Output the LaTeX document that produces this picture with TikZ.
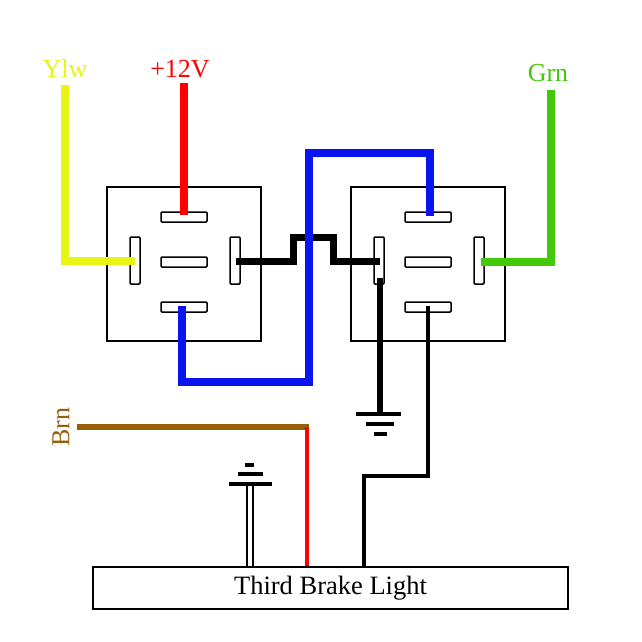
\documentclass[tikz,border=0pt]{standalone}
\usepackage{fontspec}
\setmainfont{Liberation Serif}
\definecolor{ylw}{RGB}{230,245,20}
\definecolor{grn}{RGB}{70,200,10}
\definecolor{brn}{RGB}{150,95,10}
\definecolor{blu}{RGB}{10,20,240}
\begin{document}
\begin{tikzpicture}[x=1pt,y=-1pt,
  box/.style={draw=black,line width=1.3pt},
  slot/.style={draw=black,line width=1.5pt,fill=white,rounded corners=1pt},
  thick wire/.style={line width=7.5pt},
  gnd/.style={line width=4.5pt},
  lbl/.style={font=\fontsize{26}{26}\selectfont}]
\useasboundingbox (0,0) rectangle (642,642);
\fill[white] (0,0) rectangle (642,642);
% relay boxes
\draw[box] (107,187) rectangle (261,341);
\draw[box] (351,187) rectangle (505,341);
\foreach \dx/\n in {0/a,244/b}{
  \draw[slot] (161+\dx,212) rectangle (207+\dx,222);
  \draw[slot] (161+\dx,257) rectangle (207+\dx,267);
  \draw[slot] (161+\dx,302) rectangle (207+\dx,312);
  \draw[slot] (130+\dx,237) rectangle (140+\dx,284);
  \draw[slot] (230+\dx,237) rectangle (240+\dx,284);
}
\coordinate (y0) at (65,85); \coordinate (y1) at (135,261);
\coordinate (r0) at (184,83); \coordinate (r1) at (184,215);
\coordinate (g0) at (551,90); \coordinate (g1) at (481,262);
% wires
\draw[ylw,thick wire] (y0) |- (y1);
\draw[red,thick wire] (r0) -- (r1);
\draw[grn,thick wire] (g0) |- (g1);
\draw[black,line width=7pt] (236,261) -- (293,261) -- (293,237) -- (333,237) -- (333,261) -- (380,261);
\draw[blu,thick wire] (182,306) -- (182,382) -- (309,382) -- (309,153) -- (430,153) -- (430,216);
\draw[black,line width=6pt] (380,278) -- (380,414);
\draw[gnd] (356,414) -- (401,414) (366,424) -- (394,424) (374,434) -- (387,434);
\draw[black,line width=3.5pt] (428,306) -- (428,476) -- (364,476) -- (364,568);
\draw[brn,line width=6pt] (77,427) -- (309,427);
\draw[red,line width=3.5pt] (307,427) -- (307,568);
\draw[line width=1.2pt] (247,484) -- (247,568) (253,484) -- (253,568);
\draw[gnd] (229,484) -- (272,484) (238,474) -- (263,474) (245,465) -- (254,465);
% light box
\node[draw,line width=1.6pt,minimum width=475pt,minimum height=42pt,inner sep=0pt,
  font=\fontsize{26.5}{26}\selectfont] (tb) at (330.5,588) {Third Brake Light};
% labels
\node[lbl,text=ylw] (ly) at (65,69) {Ylw};
\node[lbl,text=red] (lr) at (180,69) {+12V};
\node[lbl,text=grn] (lg) at (548,73) {Grn};
\node[lbl,text=brn,rotate=90] (lb) at (61,427) {Brn};
\end{tikzpicture}
\end{document}
